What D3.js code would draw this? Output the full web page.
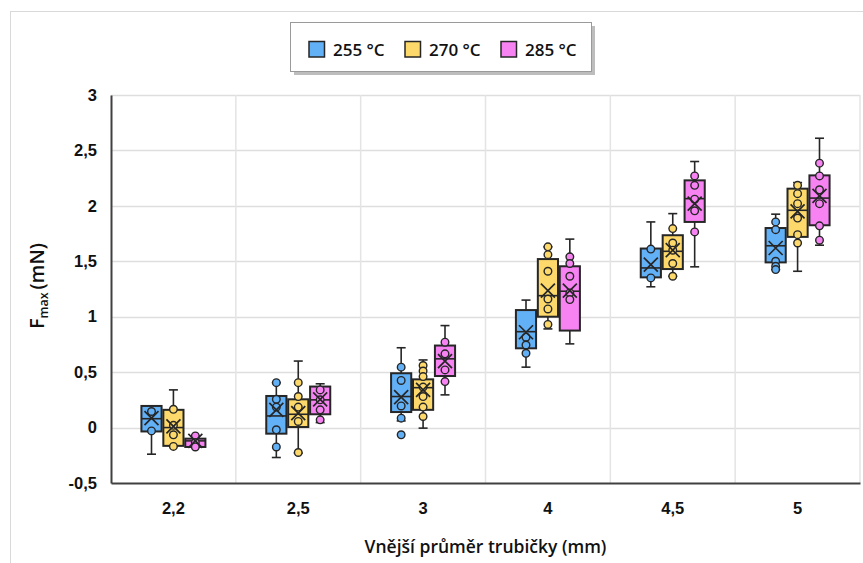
<!DOCTYPE html>
<html>
<head>
<meta charset="utf-8">
<script src="https://cdn.jsdelivr.net/npm/d3@7"></script>
<style>
  html, body { margin: 0; padding: 0; background: #fff; }
  svg { display: block; font-family: "Open Sans", "Noto Sans", sans-serif; }
</style>
</head>
<body>
<svg id="chart" width="863" height="563"></svg>
<script>
// Outer tube diameter groups and temperature series
const categories = ["2,2", "2,5", "3", "4", "4,5", "5"];
const seriesNames = ["255 °C", "270 °C", "285 °C"];
const seriesColors = ["#62b0f6", "#fdd96b", "#f783f3"];
const yTicks = [-0.5, 0, 0.5, 1, 1.5, 2, 2.5, 3];

// 255 °C
const low255    = [-0.24, -0.27, 0.06, 0.545, 1.27, 1.425];
const q1_255    = [-0.035, -0.055, 0.14, 0.715, 1.355, 1.49];
const median255 = [0.08, 0.105, 0.28, 0.865, 1.44, 1.64];
const q3_255    = [0.195, 0.285, 0.49, 1.06, 1.615, 1.8];
const high255   = [0.195, 0.405, 0.72, 1.15, 1.855, 1.925];
const mean255   = [0.085, 0.16, 0.275, 0.86, 1.47, 1.62];
const points255 = [
  [0.145, -0.03],
  [0.405, 0.255, 0.185, -0.02, -0.175],
  [0.545, 0.425, 0.195, 0.085, -0.065],
  [0.815, 0.745, 0.67],
  [1.61, 1.35],
  [1.855, 1.785, 1.5, 1.455, 1.425]
];

// 270 °C
const low270    = [-0.17, -0.23, -0.005, 0.89, 1.365, 1.41];
const q1_270    = [-0.165, 0.005, 0.16, 1.0, 1.43, 1.72];
const median270 = [0.0, 0.12, 0.36, 1.19, 1.59, 1.96];
const q3_270    = [0.16, 0.255, 0.435, 1.52, 1.735, 2.155];
const high270   = [0.34, 0.6, 0.61, 1.63, 1.93, 2.21];
const mean270   = [0.01, 0.13, 0.34, 1.235, 1.6, 1.95];
const points270 = [
  [0.165, 0.02, -0.065, -0.17],
  [0.405, 0.28, 0.185, 0.055, -0.225],
  [0.56, 0.51, 0.46, 0.365, 0.28, 0.185, 0.1],
  [1.63, 1.56, 1.41, 1.16, 1.07, 0.93],
  [1.795, 1.665, 1.6, 1.48, 1.365],
  [2.185, 2.11, 2.02, 1.89, 1.74, 1.665]
];

// 285 °C
const low285    = [-0.175, 0.045, 0.295, 0.755, 1.45, 1.645];
const q1_285    = [-0.175, 0.12, 0.465, 0.875, 1.855, 1.825];
const median285 = [-0.12, 0.25, 0.62, 1.23, 2.065, 2.07];
const q3_285    = [-0.1, 0.37, 0.74, 1.455, 2.23, 2.275];
const high285   = [-0.075, 0.395, 0.92, 1.7, 2.4, 2.61];
const mean285   = [-0.12, 0.255, 0.6, 1.235, 2.02, 2.09];
const points285 = [
  [-0.075, -0.135, -0.175],
  [0.34, 0.25, 0.16, 0.07],
  [0.77, 0.665, 0.52, 0.415],
  [1.54, 1.48, 1.365, 1.215, 1.155],
  [2.27, 2.185, 2.06, 1.955, 1.765],
  [2.385, 2.27, 2.145, 2.02, 1.82, 1.69]
];

const seriesStats = [
  { low: low255, q1: q1_255, median: median255, q3: q3_255, high: high255, mean: mean255, points: points255 },
  { low: low270, q1: q1_270, median: median270, q3: q3_270, high: high270, mean: mean270, points: points270 },
  { low: low285, q1: q1_285, median: median285, q3: q3_285, high: high285, mean: mean285, points: points285 }
];

const svg = d3.select("#chart");
const W = 863, H = 563;
const plot = { left: 111, right: 860, top: 95, bottom: 483 };
const ink = "#262626";

// chart frame
svg.append("rect")
  .attr("x", 10.5).attr("y", 11.5)
  .attr("width", W).attr("height", H)
  .attr("fill", "#fff").attr("stroke", "#d9d9d9").attr("stroke-width", 1);

const x = d3.scaleBand().domain(categories).range([plot.left, plot.right]);
const half = 32;
const xs = d3.scaleBand().domain(seriesNames)
  .range([x.bandwidth() / 2 - half, x.bandwidth() / 2 + half]).paddingInner(0.08);
const y = d3.scaleLinear().domain([-0.5, 3]).range([plot.bottom, plot.top]);

// gridlines
const grid = svg.append("g");
grid.selectAll("line.h").data(yTicks.filter(t => t > -0.5)).join("line")
  .attr("x1", plot.left).attr("x2", plot.right)
  .attr("y1", d => Math.round(y(d)) + 0.5).attr("y2", d => Math.round(y(d)) + 0.5)
  .attr("stroke", "#dedede").attr("stroke-width", 1.5);
grid.selectAll("line.v").data(categories.slice(1).concat(["end"])).join("line")
  .attr("x1", (d, i) => i < categories.length - 1 ? x(d) : plot.right)
  .attr("x2", (d, i) => i < categories.length - 1 ? x(d) : plot.right)
  .attr("y1", plot.top).attr("y2", plot.bottom)
  .attr("stroke", "#e4e4e4").attr("stroke-width", 1.5);

// axes
const fmt = d => String(d).replace(".", ",");
const yAxis = svg.append("g")
  .attr("transform", `translate(${plot.left},0)`)
  .call(d3.axisLeft(y).tickValues(yTicks).tickFormat(fmt).tickSize(0).tickPadding(14));
yAxis.select(".domain").attr("stroke", "#404040").attr("stroke-width", 2);
yAxis.selectAll("text").attr("font-size", 16.5).attr("font-weight", 600).attr("fill", "#111");

const xAxis = svg.append("g")
  .attr("transform", `translate(0,${plot.bottom})`)
  .call(d3.axisBottom(x).tickSize(0).tickPadding(19));
xAxis.select(".domain").attr("stroke", "#404040").attr("stroke-width", 2);
xAxis.selectAll("text").attr("font-size", 16.5).attr("font-weight", 600).attr("fill", "#111");

// axis titles
svg.append("text")
  .attr("x", (plot.left + plot.right) / 2).attr("y", 553)
  .attr("text-anchor", "middle").attr("font-size", 17.5).attr("font-weight", 600).attr("fill", "#111")
  .text("Vnější průměr trubičky (mm)");

const yTitle = svg.append("text")
  .attr("transform", `translate(44,${(plot.top + plot.bottom) / 2 - 3}) rotate(-90)`)
  .attr("text-anchor", "middle").attr("font-size", 19.5).attr("font-weight", 600).attr("fill", "#111");
yTitle.append("tspan").text("F");
yTitle.append("tspan").attr("font-size", 12.5).attr("dy", 4).text("max");
yTitle.append("tspan").attr("dy", -4).attr("dx", 3).text("(mN)");

// box plots
const boxW = xs.bandwidth();
const capW = 9;
seriesStats.forEach((s, si) => {
  const color = seriesColors[si];
  const g = svg.append("g");
  categories.forEach((c, ci) => {
    const x0 = x(c) + xs(seriesNames[si]);
    const cx = x0 + boxW / 2;
    // whiskers
    g.append("line").attr("x1", cx).attr("x2", cx)
      .attr("y1", y(s.high[ci])).attr("y2", y(s.low[ci]))
      .attr("stroke", ink).attr("stroke-width", 1.6);
    [s.high[ci], s.low[ci]].forEach(v => {
      g.append("line").attr("x1", cx - capW / 2).attr("x2", cx + capW / 2)
        .attr("y1", y(v)).attr("y2", y(v))
        .attr("stroke", ink).attr("stroke-width", 1.6);
    });
    // box
    g.append("rect")
      .attr("x", x0).attr("y", y(s.q3[ci]))
      .attr("width", boxW).attr("height", Math.max(1, y(s.q1[ci]) - y(s.q3[ci])))
      .attr("fill", color).attr("stroke", ink).attr("stroke-width", 2);
    // median
    g.append("line").attr("x1", x0).attr("x2", x0 + boxW)
      .attr("y1", y(s.median[ci])).attr("y2", y(s.median[ci]))
      .attr("stroke", ink).attr("stroke-width", 1.6);
    // data points
    g.selectAll(null).data(s.points[ci]).join("circle")
      .attr("cx", cx).attr("cy", d => y(d)).attr("r", 3.8)
      .attr("fill", color).attr("stroke", ink).attr("stroke-width", 1.4);
    // mean marker
    const my = y(s.mean[ci]), a = 7;
    g.append("path")
      .attr("d", `M${cx - a},${my - a}L${cx + a},${my + a}M${cx - a},${my + a}L${cx + a},${my - a}`)
      .attr("stroke", ink).attr("stroke-width", 1.7).attr("fill", "none");
  });
});

// legend
const lg = svg.append("g");
lg.append("rect").attr("x", 294).attr("y", 26).attr("width", 301).attr("height", 49).attr("fill", "#bdbdbd");
lg.append("rect").attr("x", 290.5).attr("y", 22.5).attr("width", 301).attr("height", 49)
  .attr("fill", "#fff").attr("stroke", "#9a9a9a").attr("stroke-width", 1);
const legendX = [309, 405, 501];
seriesNames.forEach((n, i) => {
  lg.append("rect").attr("x", legendX[i]).attr("y", 41.5).attr("width", 15.5).attr("height", 15.5)
    .attr("fill", seriesColors[i]).attr("stroke", ink).attr("stroke-width", 1.5);
  lg.append("text").attr("x", legendX[i] + 24).attr("y", 55.5)
    .attr("font-size", 17).attr("font-weight", 600).attr("fill", "#111").text(n);
});
</script>
</body>
</html>
